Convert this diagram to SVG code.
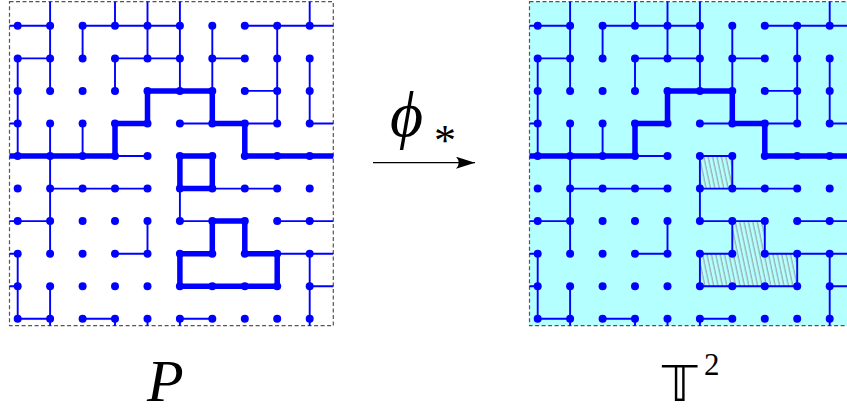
<svg xmlns="http://www.w3.org/2000/svg" xmlns:xlink="http://www.w3.org/1999/xlink" width="847" height="411" viewBox="0 0 847 411">
<style>
.frame{fill:none;stroke:#555;stroke-width:1.2;stroke-dasharray:4 2.5}
.thin{fill:none;stroke:#0000ff;stroke-width:1.9;stroke-linecap:butt}
.thick{fill:none;stroke:#0000ff;stroke-width:5.5;stroke-linejoin:miter;stroke-linecap:butt}
.hatched{fill:url(#hatch);stroke:#0000ff;stroke-width:1.9}
.dot{fill:#0000ff}
.lbl{font-family:"Liberation Serif","DejaVu Serif",serif;fill:#000}
</style>
<defs>
<pattern id="hatch" patternUnits="userSpaceOnUse" width="4.3" height="10" patternTransform="rotate(-12)">
<line x1="1" y1="0" x2="1" y2="10" stroke="#8c8c8c" stroke-width="0.9"/>
</pattern>
<marker id="arrowhead" markerWidth="22" markerHeight="14" refX="19" refY="6" orient="auto" markerUnits="userSpaceOnUse">
<path d="M19 6 L0 0 Q5.5 6 0 12 Z" fill="#000"/>
</marker>
<g id="dotrow">
<circle class="dot" cx="17.7" cy="0" r="4"/><circle class="dot" cx="50.1" cy="0" r="4"/><circle class="dot" cx="82.6" cy="0" r="4"/><circle class="dot" cx="115" cy="0" r="4"/><circle class="dot" cx="147.5" cy="0" r="4"/><circle class="dot" cx="179.9" cy="0" r="4"/><circle class="dot" cx="212.3" cy="0" r="4"/><circle class="dot" cx="244.8" cy="0" r="4"/><circle class="dot" cx="277.2" cy="0" r="4"/><circle class="dot" cx="309.7" cy="0" r="4"/>
</g>
<g id="dotgrid">
<use xlink:href="#dotrow" y="25.8"/><use xlink:href="#dotrow" y="58.4"/><use xlink:href="#dotrow" y="90.9"/><use xlink:href="#dotrow" y="123.5"/><use xlink:href="#dotrow" y="156"/><use xlink:href="#dotrow" y="188.6"/><use xlink:href="#dotrow" y="221.1"/><use xlink:href="#dotrow" y="253.7"/><use xlink:href="#dotrow" y="286.2"/><use xlink:href="#dotrow" y="318.8"/>
</g>
<path id="thinedges" class="thin" d="M9.5 25.8H50.1M82.6 25.8H179.9M244.8 25.8H333.3
M17.7 58.4H50.1M115 58.4H179.9M212.3 58.4H244.8
M244.8 90.9H277.2
M9.5 123.5H17.7M179.9 123.5H212.3M244.8 123.5H277.2M309.7 123.5H333.3
M115 156H147.5
M50.1 188.6H147.5M212.3 188.6H277.2
M9.5 221.1H50.1M179.9 221.1H212.3M277.2 221.1H333.3
M9.5 253.7H17.7M115 253.7H147.5M277.2 253.7H333.3
M9.5 286.2H17.7M309.7 286.2H333.3
M17.7 318.8H50.1M82.6 318.8H115M179.9 318.8H212.3
M17.7 58.4V156M17.7 253.7V318.8
M50.1 1.7V90.9M50.1 123.5V253.7M50.1 286.2V325.7
M82.6 25.8V58.4M82.6 123.5V156
M115 1.7V25.8M115 58.4V90.9M115 318.8V325.7
M147.5 1.7V58.4M147.5 221.1V253.7M147.5 318.8V325.7
M179.9 1.7V90.9M179.9 188.6V221.1M179.9 318.8V325.7
M212.3 25.8V90.9
M277.2 25.8V123.5
M309.7 1.7V25.8M309.7 58.4V123.5M309.7 253.7V325.7"/>
<path id="contour" class="thick" d="M9.5 156H115V123.5H147.5V90.9H212.3V123.5H244.8V156H333.3"/>
</defs>

<g id="panel-P">
<rect class="frame" x="9.5" y="1.7" width="323.8" height="324"/>
<g id="edges-P">
<use xlink:href="#thinedges"/>
<use xlink:href="#contour"/>
<path id="square-P" class="thick" d="M179.9 156H212.3V188.6H179.9Z"/>
<path id="tee-P" class="thick" d="M179.9 253.7H212.3V221.1H244.8V253.7H277.2V286.2H179.9Z"/>
</g>
<use id="nodes-P" xlink:href="#dotgrid"/>
</g>

<g id="panel-T2">
<rect x="529.5" y="1.7" width="323.8" height="324" fill="#b4ffff"/>
<rect class="frame" x="529.5" y="1.7" width="323.8" height="324"/>
<g id="edges-T2" transform="translate(520 0)">
<use xlink:href="#thinedges"/>
<use xlink:href="#contour"/>
<path id="square-T2" class="hatched" d="M179.9 156H212.3V188.6H179.9Z"/>
<path id="tee-T2" class="hatched" d="M179.9 253.7H212.3V221.1H244.8V253.7H277.2V286.2H179.9Z"/>
</g>
<use id="nodes-T2" xlink:href="#dotgrid" transform="translate(520 0)"/>
</g>

<g id="connectors">
<path id="map-arrow" d="M373 162.7H475" stroke="#000" stroke-width="1.3" fill="none" marker-end="url(#arrowhead)"/>
</g>

<g id="labels">
<text class="lbl" x="390" y="136" font-size="64" font-style="italic">ϕ</text>
<text class="lbl" x="434" y="155" font-size="44">*</text>
<text class="lbl" x="147" y="401" font-size="60" font-style="italic">P</text>
<text x="662" y="401" font-size="50" font-family="DejaVu Sans, 'Noto Sans', serif">𝕋</text>
<text class="lbl" x="704" y="375" font-size="31">2</text>
</g>
</svg>
